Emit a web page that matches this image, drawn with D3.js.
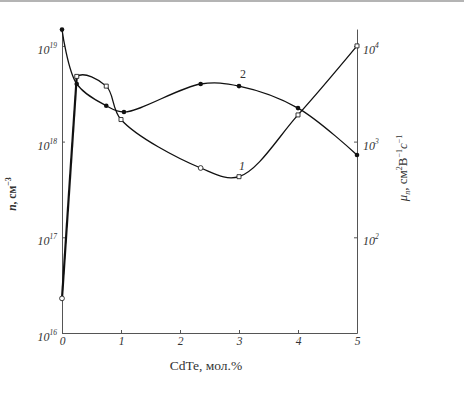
<!DOCTYPE html>
<html>
<head>
<meta charset="utf-8">
<script src="https://cdn.jsdelivr.net/npm/d3@7"></script>
<style>
body { margin: 0; background: #fff; }
svg { display: block; }
text { font-family: 'Liberation Serif', 'DejaVu Serif', serif; fill: #333; }
</style>
</head>
<body>
<svg id="chart"></svg>
<script>
// CdTe content, mol.%
const xTicks = [0, 1, 2, 3, 4, 5];

// curve 1 - carrier concentration n, cm^-3 (left axis)
const x1 = [0, 0.25, 0.75, 1, 2.35, 3, 4, 5];
const n1 = [2.3e16, 4.8e18, 3.8e18, 1.7e18, 5.3e17, 4.3e17, 1.9e18, 1.0e19];
const mark1 = ['circle', 'square', 'square', 'square', 'circle', 'square', 'square', 'square'];

// curve 2 - mobility mu_n, cm^2/(V s) (right axis)
const x2 = [0, 0.25, 0.75, 1.05, 2.35, 3, 4, 5];
const mu2 = [14800, 4000, 2370, 2040, 4000, 3800, 2240, 725];

// tick exponents
const nExp = [16, 17, 18, 19];
const muExp = [2, 3, 4];

const width = 464, height = 393;
const decade = 95.7;          // px per decade on both log axes
const nTop = 1.5e19, muTop = 1.5e4;

const svg = d3.select('#chart')
	.attr('width', width)
	.attr('height', height);

// scan border at top
svg.append('rect')
	.attr('x', 0).attr('y', 0)
	.attr('width', width).attr('height', 2)
	.attr('fill', '#b4b4b4');

const x = d3.scaleLinear().domain([0, 5]).range([62, 357]);
const yN = d3.scaleLog().domain([1e16, nTop]).range([333, 333 - decade * Math.log10(nTop / 1e16)]);
const yMu = d3.scaleLog().domain([10, muTop]).range([333, 333 - decade * Math.log10(muTop / 10)]);

// axes
const axisColor = '#555';
const gx = svg.append('g')
	.attr('transform', `translate(0,${yN(1e16)})`)
	.call(d3.axisBottom(x).tickValues(xTicks).tickFormat(d3.format('d'))
		.tickSize(-3).tickSizeOuter(0).tickPadding(4));

const gl = svg.append('g')
	.attr('transform', `translate(${x(0)},0)`)
	.call(d3.axisLeft(yN).tickValues(nExp.map(k => Math.pow(10, k))).tickSize(-3).tickSizeOuter(0).tickFormat(''));

const gr = svg.append('g')
	.attr('transform', `translate(${x(5)},0)`)
	.call(d3.axisRight(yMu).tickValues(muExp.map(k => Math.pow(10, k))).tickSize(-3).tickSizeOuter(0).tickFormat(''));

[gx, gl, gr].forEach(g => {
	g.select('.domain').attr('stroke', axisColor).attr('stroke-width', 1);
	g.selectAll('.tick line').attr('stroke', axisColor);
});
gx.selectAll('.tick text')
	.attr('fill', '#444')
	.style('font-size', '11.5px')
	.style('font-style', 'italic')
	.style('font-family', "'Liberation Serif', serif");

// power-of-ten labels
function powLabel(g, xp, yp, k, anchor) {
	const t = g.append('text')
		.attr('x', xp).attr('y', yp)
		.attr('text-anchor', anchor)
		.style('font-size', '12px')
		.style('font-style', 'italic')
		.attr('fill', '#444');
	t.append('tspan').text('10');
	t.append('tspan').attr('dy', -6).style('font-size', '7.5px').text(k);
}
nExp.forEach(k => powLabel(svg, x(0) - 5, yN(Math.pow(10, k)) + 8, k, 'end'));
muExp.forEach(k => powLabel(svg, x(5) + 6, yMu(Math.pow(10, k)) + 8, k, 'start'));

// catmull-rom through all points, but the first span is left out
// (it is drawn as a straight thick stroke instead)
function tailPath(points) {
	const cmds = [];
	const rec = {
		moveTo: (a, b) => cmds.push(['M', a, b]),
		lineTo: (a, b) => cmds.push(['L', a, b]),
		bezierCurveTo: (a, b, c, d, e, f) => cmds.push(['C', a, b, c, d, e, f]),
		closePath: () => {}
	};
	d3.line().curve(d3.curveCatmullRom.alpha(0.5)).context(rec)(points);
	const p = d3.path();
	p.moveTo(points[1][0], points[1][1]);
	cmds.slice(2).forEach(c => {
		if (c[0] === 'C') p.bezierCurveTo(c[1], c[2], c[3], c[4], c[5], c[6]);
		else p.lineTo(c[1], c[2]);
	});
	return p.toString();
}

const pts1 = x1.map((v, i) => [x(v), yN(n1[i])]);
const pts2 = x2.map((v, i) => [x(v), yMu(mu2[i])]);

svg.append('path').attr('d', tailPath(pts1))
	.attr('fill', 'none').attr('stroke', '#111').attr('stroke-width', 1.3);
svg.append('path').attr('d', d3.line()(pts1.slice(0, 2)))
	.attr('fill', 'none').attr('stroke', '#111').attr('stroke-width', 2.2);
svg.append('path').attr('d', d3.line().curve(d3.curveCatmullRom.alpha(0.5))(pts2))
	.attr('fill', 'none').attr('stroke', '#111').attr('stroke-width', 1.3);

// markers, curve 1: open squares / circles
svg.append('g')
	.selectAll('path')
	.data(pts1)
	.join('path')
	.attr('d', (d, i) => d3.symbol(mark1[i] === 'square' ? d3.symbolSquare : d3.symbolCircle, mark1[i] === 'square' ? 16 : 18)())
	.attr('transform', d => `translate(${d[0]},${d[1]})`)
	.attr('fill', '#fff')
	.attr('stroke', '#222')
	.attr('stroke-width', 0.9);

// markers, curve 2: filled dots
svg.append('g')
	.selectAll('circle')
	.data(pts2)
	.join('circle')
	.attr('cx', d => d[0])
	.attr('cy', d => d[1])
	.attr('r', 2.3)
	.attr('fill', '#111');

// curve numbers
svg.append('text').attr('x', 239).attr('y', 170)
	.style('font-size', '12px').style('font-style', 'italic').text('1');
svg.append('text').attr('x', 240).attr('y', 78)
	.style('font-size', '12px').text('2');

// axis titles
svg.append('text')
	.attr('x', 206).attr('y', 370)
	.attr('text-anchor', 'middle')
	.style('font-size', '13.5px')
	.text('CdTe, мол.%');

const lt = svg.append('text')
	.attr('transform', 'translate(16,194) rotate(-90)')
	.attr('text-anchor', 'middle')
	.style('font-size', '11.5px')
	.style('font-weight', 'bold');
lt.append('tspan').style('font-style', 'italic').text('n');
lt.append('tspan').text(', см');
lt.append('tspan').attr('dy', -5).style('font-size', '8px').text('−3');

const rt = svg.append('text')
	.attr('transform', 'translate(407,168) rotate(-90)')
	.attr('text-anchor', 'middle')
	.style('font-size', '13px');
rt.append('tspan').style('font-style', 'italic').text('μ');
rt.append('tspan').attr('dy', 3).style('font-size', '8px').style('font-style', 'italic').text('n');
rt.append('tspan').attr('dy', -3).text(', см');
rt.append('tspan').attr('dy', -5).style('font-size', '8px').text('2');
rt.append('tspan').attr('dy', 5).text('В');
rt.append('tspan').attr('dy', -5).style('font-size', '8px').text('−1');
rt.append('tspan').attr('dy', 5).style('font-style', 'italic').text('с');
rt.append('tspan').attr('dy', -5).style('font-size', '8px').text('−1');
</script>
</body>
</html>
